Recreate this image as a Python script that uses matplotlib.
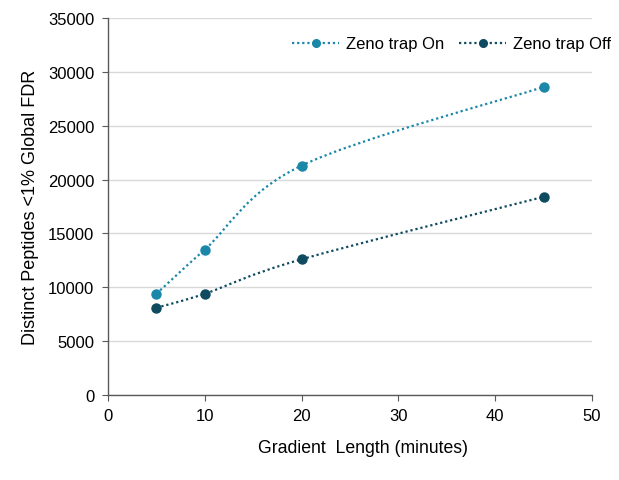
import numpy as np
import matplotlib
matplotlib.use("Agg")
import matplotlib.pyplot as plt
from matplotlib.path import Path
from matplotlib.patches import PathPatch
from matplotlib.lines import Line2D

plt.rcParams["font.family"] = ["Liberation Sans", "DejaVu Sans"]

# data
gradient_min = [5, 10, 20, 45]
zeno_on = [9400, 13500, 21300, 28600]
zeno_off = [8100, 9400, 12600, 18400]

series = [
    ("Zeno trap On", zeno_on, "#1a87a9"),
    ("Zeno trap Off", zeno_off, "#0e4b60"),
]


def smooth_path(x, y):
    # Excel-style smoothed line: cubic bezier between points
    pts = np.column_stack([x, y]).astype(float)
    n = len(pts)
    verts = [pts[0]]
    codes = [Path.MOVETO]
    for i in range(n - 1):
        p0 = pts[i - 1] if i > 0 else pts[i]
        p1 = pts[i]
        p2 = pts[i + 1]
        p3 = pts[i + 2] if i + 2 < n else pts[i + 1]
        c1 = p1 + (p2 - p0) / 6
        c2 = p2 - (p3 - p1) / 6
        verts += [c1, c2, p2]
        codes += [Path.CURVE4] * 3
    return Path(verts, codes)


fig, ax = plt.subplots(figsize=(6.19, 4.81), dpi=100)
fig.subplots_adjust(left=0.1745, right=0.9564, bottom=0.1767, top=0.9605)

handles = []
for name, vals, col in series:
    patch = PathPatch(smooth_path(gradient_min, vals), facecolor="none", edgecolor=col,
                      lw=1.6, linestyle=(0, (1, 1.3)), zorder=3)
    ax.add_patch(patch)
    ax.plot(gradient_min, vals, "o", color=col, ms=6.5, zorder=4)
    handles.append(Line2D([], [], color=col, lw=1.6, linestyle=(0, (1, 1.3)),
                          marker="o", ms=5.5, label=name))

ax.set_xlim(0, 50)
ax.set_ylim(0, 35000)
ax.set_xticks(range(0, 51, 10))
ax.set_yticks(range(0, 35001, 5000))
ax.grid(axis="y", color="#d9d9d9", lw=1)
ax.set_axisbelow(True)
for s in ["top", "right"]:
    ax.spines[s].set_visible(False)
for s in ["left", "bottom"]:
    ax.spines[s].set_color("#595959")
    ax.spines[s].set_linewidth(1)
ax.tick_params(colors="#595959", labelcolor="black", labelsize=12, length=4)
ax.tick_params(axis="y", pad=6)
ax.tick_params(axis="x", pad=5)

ax.set_xlabel("Gradient  Length (minutes)", fontsize=12.7)
ax.xaxis.set_label_coords(0.526, -0.138)
ax.xaxis.label.set_va("center")
ax.set_ylabel("Distinct Peptides <1% Global FDR", fontsize=13, labelpad=6)

ax.legend(handles=handles, loc="center right", ncol=2, frameon=False, fontsize=12,
          handlelength=2.8, columnspacing=0.9, handletextpad=0.42,
          borderpad=0, borderaxespad=0,
          bbox_to_anchor=(611 / 619, 1 - 45 / 481), bbox_transform=fig.transFigure)

fig.savefig("out.png", dpi=100)
